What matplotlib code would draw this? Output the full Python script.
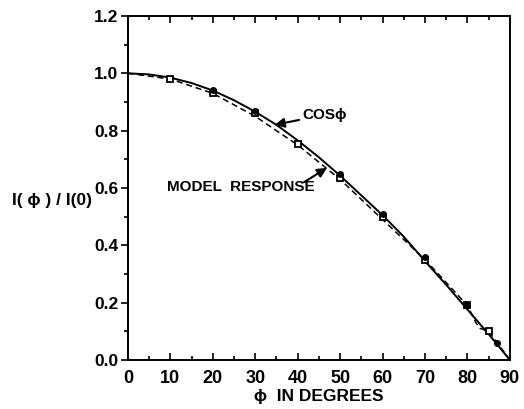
import matplotlib
matplotlib.use("Agg")
import matplotlib.pyplot as plt
from matplotlib.ticker import MultipleLocator

# cos(phi) curve
cos_x = [0, 5, 10, 15, 20, 25, 30, 35, 40, 45, 50, 55, 60, 65, 70, 75, 80, 85, 90]
cos_y = [1.0, 0.996, 0.985, 0.966, 0.94, 0.906, 0.866, 0.82, 0.766, 0.707, 0.643,
         0.574, 0.505, 0.43, 0.345, 0.262, 0.176, 0.09, 0.0]

# model response (dashed)
model_x = [0, 10, 20, 30, 40, 50, 60, 65, 70, 75, 80, 82, 83, 85, 87, 90]
model_y = [1.0, 0.98, 0.93, 0.85, 0.75, 0.63, 0.49, 0.42, 0.35, 0.27, 0.19, 0.13,
           0.11, 0.10, 0.06, 0.0]

# open-square data points
sq_x = [10, 20, 30, 40, 50, 60, 70, 80, 85]
sq_y = [0.98, 0.93, 0.86, 0.755, 0.635, 0.50, 0.35, 0.19, 0.10]

# filled-dot data points
dot_x = [20, 30, 50, 60, 70, 80, 87]
dot_y = [0.94, 0.87, 0.65, 0.51, 0.36, 0.19, 0.06]

xticks = [0, 10, 20, 30, 40, 50, 60, 70, 80, 90]
yticks = [0.0, 0.2, 0.4, 0.6, 0.8, 1.0, 1.2]

fam = ['Liberation Sans', 'DejaVu Sans']
plt.rcParams['font.family'] = fam
plt.rcParams['font.weight'] = 'bold'

fig = plt.figure(figsize=(5.24, 4.09), dpi=100)
ax = fig.add_axes([0.244, 0.120, 0.729, 0.841])

ax.plot(cos_x, cos_y, color='black', lw=1.4, ls='-')
ax.plot(model_x, model_y, color='black', lw=1.1, ls=(0, (4, 2.5)))
ax.plot(sq_x, sq_y, ls='none', marker='s', ms=5, mfc='white', mec='black', mew=1.3)
ax.plot(dot_x, dot_y, ls='none', marker='o', ms=4, mfc='black', mec='black')

ax.set_xlim(0, 90)
ax.set_ylim(0, 1.2)
ax.set_xticks(xticks)
ax.set_yticks(yticks)
ax.set_xticklabels([str(v) for v in xticks], fontsize=13, fontweight='bold')
ax.set_yticklabels([f"{v:.1f}" for v in yticks], fontsize=12.5, fontweight='bold')
ax.xaxis.set_minor_locator(MultipleLocator(5))
ax.yaxis.set_minor_locator(MultipleLocator(0.1))

ax.tick_params(axis='x', which='both', direction='in', top=True, bottom=True,
               width=1.2, pad=7)
ax.tick_params(axis='x', which='major', length=5)
ax.tick_params(axis='x', which='minor', length=3)
ax.tick_params(axis='y', which='both', direction='out', left=True, right=False,
               width=1.2, pad=2)
ax.tick_params(axis='y', which='major', length=5)
ax.tick_params(axis='y', which='minor', length=3)
for s in ax.spines.values():
    s.set_linewidth(1.4)

ax.set_xlabel('\u03d5  IN DEGREES', fontsize=12.5, fontweight='bold', labelpad=2)
fig.text(0.022, 0.51, 'I( \u03d5 ) / I(0)', fontsize=12.5, fontweight='bold',
         ha='left', va='center')

ax.annotate('COS\u03d5', xy=(34.6, 0.82), xytext=(41.0, 0.855),
            fontsize=11, fontweight='bold', ha='left', va='center',
            arrowprops=dict(arrowstyle='-|>', color='black', lw=1.5,
                            mutation_scale=14, shrinkA=0, shrinkB=0))
ax.annotate('', xy=(46.9, 0.67), xytext=(41.5, 0.62),
            arrowprops=dict(arrowstyle='-|>', color='black', lw=1.5,
                            mutation_scale=14, shrinkA=0, shrinkB=0))
ax.text(9.3, 0.605, 'MODEL  RESPONSE', fontsize=11, fontweight='bold',
        ha='left', va='center')

fig.savefig('out.png', dpi=100)
